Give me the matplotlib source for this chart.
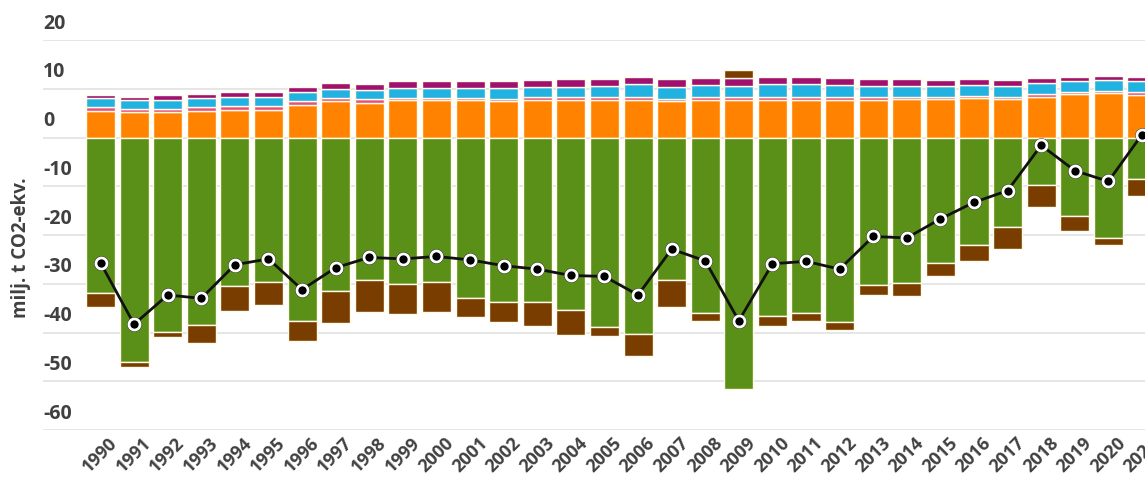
import matplotlib.pyplot as plt
import matplotlib.transforms as mtransforms
import numpy as np

plt.rcParams['font.family'] = ['Open Sans', 'DejaVu Sans']

years = [str(y) for y in range(1990, 2022)]

# positive components (milj. t CO2-ekv.)
orange = [5.5, 5.2, 5.2, 5.5, 5.7, 5.7, 6.7, 7.5, 7.1, 7.6, 7.6, 7.6, 7.5, 7.7, 7.7, 7.7,
          7.7, 7.5, 7.7, 7.7, 7.7, 7.7, 7.7, 7.7, 7.9, 7.8, 8.1, 7.9, 8.4, 9.0, 9.1, 8.8]
pink = [0.7, 0.7, 0.7, 0.7, 0.7, 0.7, 0.7, 0.6, 0.7, 0.6, 0.6, 0.6, 0.5, 0.6, 0.7, 0.7,
        0.7, 0.5, 0.7, 0.7, 0.7, 0.7, 0.7, 0.7, 0.5, 0.6, 0.5, 0.5, 0.6, 0.4, 0.4, 0.5]
cyan = [1.9, 1.7, 1.8, 1.9, 2.0, 1.9, 1.9, 1.9, 1.9, 1.9, 1.9, 1.9, 2.1, 2.0, 2.0, 2.1,
        2.6, 2.3, 2.4, 2.1, 2.5, 2.5, 2.3, 2.1, 2.1, 2.1, 2.2, 2.1, 2.2, 2.1, 2.2, 2.2]
magenta = [0.7, 0.8, 1.0, 0.8, 1.0, 1.0, 1.0, 1.2, 1.3, 1.4, 1.4, 1.4, 1.5, 1.4, 1.5, 1.5,
           1.4, 1.6, 1.4, 1.7, 1.5, 1.5, 1.5, 1.4, 1.5, 1.2, 1.2, 1.2, 1.0, 1.0, 1.0, 0.9]

# negative components
green = [-31.9, -46.0, -39.8, -38.5, -30.5, -29.6, -37.6, -31.4, -29.2, -30.0, -29.6, -32.9,
         -33.7, -33.8, -35.4, -38.9, -40.3, -29.2, -36.0, -51.6, -36.7, -35.9, -37.9, -30.3,
         -29.9, -25.7, -22.0, -18.4, -9.7, -16.2, -20.6, -8.6]
brown = [-2.9, -1.0, -1.2, -3.7, -5.1, -4.7, -4.1, -6.6, -6.5, -6.2, -6.1, -3.9,
         -4.2, -4.9, -5.1, -1.8, -4.5, -5.5, -1.7, 1.6, -1.9, -1.8, -1.5, -2.0,
         -2.7, -2.7, -3.4, -4.5, -4.5, -2.9, -1.4, -3.5]

# net total
net = [-25.7, -38.3, -32.3, -33.0, -26.1, -24.9, -31.2, -26.7, -24.6, -24.9, -24.4, -25.1,
       -26.3, -27.0, -28.3, -28.5, -32.3, -22.9, -25.3, -37.6, -25.9, -25.4, -27.0, -20.3,
       -20.6, -16.7, -13.3, -10.9, -1.6, -6.8, -9.0, 0.6]

x = np.arange(len(years))
w = 0.865
edge = '#fffbe8'
txt = '#404040'

fig = plt.figure(figsize=(11.45, 4.86), dpi=100)
ax = fig.add_axes([0.0376, 0.1152, 0.9624, 0.8025])

bottom = np.zeros(len(x))
for vals, col in [(orange, '#ff8300'), (pink, '#e8507a'), (cyan, '#22b2e2'), (magenta, '#a0106e')]:
    ax.bar(x, vals, w, bottom=bottom, color=col, edgecolor=edge, linewidth=1, zorder=2)
    bottom = bottom + np.array(vals)

ax.bar(x, green, w, color='#5a8f18', edgecolor=edge, linewidth=1, zorder=2)
brown_arr = np.array(brown)
brown_base = np.where(brown_arr < 0, np.array(green), bottom)
ax.bar(x, brown, w, bottom=brown_base, color='#7a3d00', edgecolor=edge, linewidth=1, zorder=2)

ax.plot(x, net, color='#111111', lw=2, marker='o', ms=9.5, mfc='#111111', mec='#111111', zorder=4)
ax.plot(x, net, ls='none', marker='o', ms=8, mfc='black', mec='white', mew=2, zorder=5)

ax.set_xlim(-1.71, 31.09)
ax.set_ylim(-60, 20)
yt = np.arange(-60, 21, 10)
for v in yt:
    ax.axhline(v, color='#e2e2e2', lw=1.2, zorder=1)
    ax.text(0.0, v + 1.3, str(v), transform=ax.get_yaxis_transform(), ha='left', va='bottom',
            fontsize=14, fontweight='bold', color=txt)
ax.set_yticks([])

ax.set_xticks(x)
ax.set_xticklabels(years, rotation=45, ha='right', rotation_mode='anchor',
                   fontsize=13, fontweight='bold', color=txt)
ax.tick_params(axis='x', length=0, pad=3)
shift = mtransforms.ScaledTranslation(8 / 100, 0, fig.dpi_scale_trans)
for lbl in ax.get_xticklabels():
    lbl.set_transform(lbl.get_transform() + shift)

for s in ax.spines.values():
    s.set_visible(False)

fig.text(0.018, 0.49, 'milj. t CO2-ekv.', rotation=90, ha='center', va='center',
         fontsize=13.5, fontweight='bold', color=txt)

fig.savefig('out.png', dpi=100)
